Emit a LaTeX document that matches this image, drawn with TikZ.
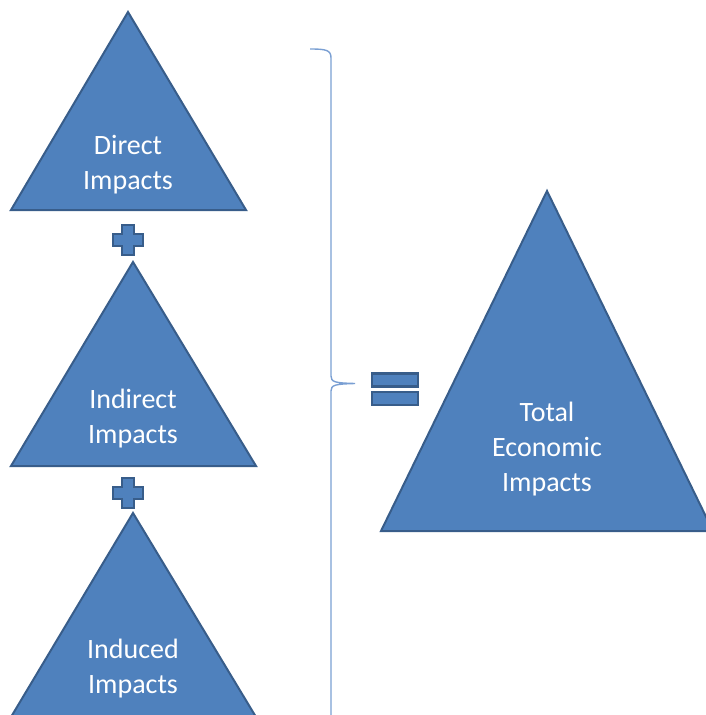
\documentclass[tikz,border=0pt]{standalone}
\usepackage{fontspec}
\setmainfont{Carlito}
\begin{document}
\begin{tikzpicture}[x=1pt,y=-1pt,
  tri/.style={fill=impactblue,draw=impactedge,line width=2pt,line join=miter},
  sign/.style={fill=impactblue,draw=impactedge,line width=2.4pt},
  label/.style={text=white,font=\fontsize{28}{35}\selectfont,align=center,inner sep=0pt},
  bracket/.style={draw=braceblue,line width=1.4pt}]
\definecolor{impactblue}{HTML}{4F81BD}
\definecolor{impactedge}{HTML}{385D8A}
\definecolor{braceblue}{HTML}{7A9FD3}
\useasboundingbox (0,0) rectangle (706,715);
\clip (0,0) rectangle (706,715);

% component triangles
\draw[tri] (128,12) -- (246,210) -- (11,210) -- cycle;
\draw[tri] (133,262) -- (256,466) -- (11,466) -- cycle;
\draw[tri] (133,513) -- (256,717) -- (11,717) -- cycle;
% total triangle
\draw[tri] (547,191) -- (713,531) -- (381,531) -- cycle;

\node[label] (direct) at (128,164.5) {Direct\\Impacts};
\node[label] (indirect) at (133,418.5) {Indirect\\Impacts};
\node[label] (induced) at (133,668.5) {Induced\\Impacts};
\node[label] (total) at (547,449.5) {Total\\Economic\\Impacts};

% plus signs
\foreach \cx/\cy in {128/240, 128/493}{
  \draw[sign] (\cx-6,\cy-15) -- (\cx+6,\cy-15) -- (\cx+6,\cy-6) -- (\cx+15,\cy-6)
    -- (\cx+15,\cy+6) -- (\cx+6,\cy+6) -- (\cx+6,\cy+15) -- (\cx-6,\cy+15)
    -- (\cx-6,\cy+6) -- (\cx-15,\cy+6) -- (\cx-15,\cy-6) -- (\cx-6,\cy-6) -- cycle;
}

% equals sign
\draw[sign] (372,373.5) rectangle (418,386.5);
\draw[sign] (372,392) rectangle (418,405);

% curly brace
\draw[bracket] (310,49) .. controls (326,49) and (331,50) .. (331,58)
  -- (331,376) .. controls (331,382) and (335,383) .. (355,383.5)
  .. controls (335,384) and (331,385) .. (331,391) -- (331,720);
\end{tikzpicture}
\end{document}
